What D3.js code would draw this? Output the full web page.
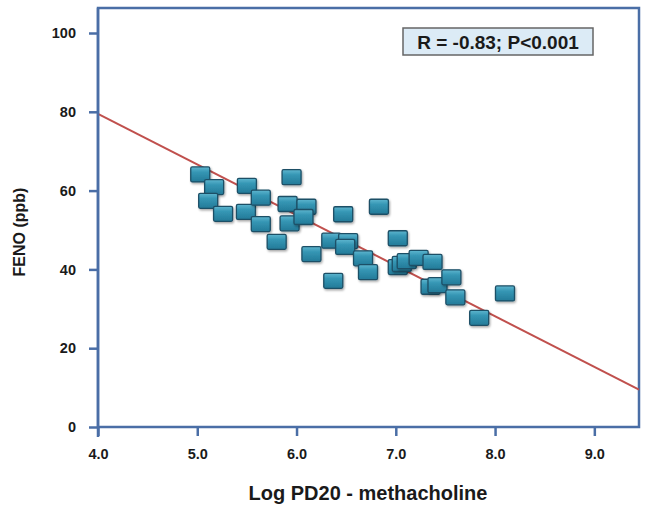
<!DOCTYPE html>
<meta charset="utf-8">
<style>
    body { margin: 0; overflow: hidden; background: #fff; }
    text { font-family: "Liberation Sans", Arial, sans-serif; font-weight: bold; fill: #1a1a1a; }
</style>
<svg id="canvas" width="645" height="506"></svg>
<script src="https://d3js.org/d3.v7.min.js"></script>
<script>

    // values
    var logPD20 = [5.03, 5.17, 5.11, 5.26, 5.50, 5.49, 5.64, 5.64, 5.80, 5.95, 5.91, 5.93,
                   6.10, 6.07, 6.15, 6.37, 6.35, 6.47, 6.52, 6.49, 6.67, 6.72, 6.83, 7.02,
                   7.02, 7.06, 7.11, 7.23, 7.37, 7.35, 7.42, 7.56, 7.60, 7.84, 8.10];
    var feno    = [64.1, 60.9, 57.4, 54.1, 61.2, 54.6, 58.2, 51.5, 47.0, 63.4, 56.6, 51.7,
                   55.9, 53.3, 43.9, 37.1, 47.3, 54.0, 47.2, 45.7, 42.8, 39.3, 55.9, 47.9,
                   40.6, 41.4, 42.1, 42.9, 41.9, 35.6, 36.0, 38.0, 32.9, 27.7, 33.9];
    var xTicks = [4, 5, 6, 7, 8, 9];
    var yTicks = [0, 20, 40, 60, 80, 100];
    var fitLine = [[4.0, 79.5], [9.45, 9.5]];
    var statText = "R = -0.83; P<0.001";

    var svg = d3.select("#canvas");
    var axisColor = "#4a6ea6";

    var x = d3.scaleLinear().domain([4, 9.45]).range([98, 639]);
    var y = d3.scaleLinear().domain([0, 100]).range([427, 33]);

    var defs = svg.append("defs");
    var grad = defs.append("linearGradient").attr("id", "boxfill")
                   .attr("x1", 0).attr("y1", 0).attr("x2", 0).attr("y2", 1);
    grad.append("stop").attr("offset", "0%").attr("stop-color", "#5fb6cf");
    grad.append("stop").attr("offset", "35%").attr("stop-color", "#3596b4");
    grad.append("stop").attr("offset", "100%").attr("stop-color", "#237a98");
    var shadow = defs.append("filter").attr("id", "shadow")
                     .attr("x", "-30%").attr("y", "-30%").attr("width", "160%").attr("height", "160%");
    shadow.append("feDropShadow").attr("dx", 1).attr("dy", 1.5).attr("stdDeviation", 1)
          .attr("flood-color", "#000").attr("flood-opacity", 0.35);

    // plot frame
    svg.append("rect")
       .attr("x", 98).attr("y", 8).attr("width", 541).attr("height", 419)
       .attr("fill", "none").attr("stroke", axisColor).attr("stroke-width", 2.5);

    // regression line
    svg.append("line")
       .attr("x1", x(fitLine[0][0])).attr("y1", y(fitLine[0][1]))
       .attr("x2", x(fitLine[1][0])).attr("y2", y(fitLine[1][1]))
       .attr("stroke", "#c0504d").attr("stroke-width", 2);

    // axes
    var yAxis = svg.append("g").attr("transform", "translate(98,0)")
                   .call(d3.axisLeft(y).tickValues(yTicks).tickSize(9).tickPadding(13).tickFormat(d3.format("d")));
    var xAxis = svg.append("g").attr("transform", "translate(0,427)")
                   .call(d3.axisBottom(x).tickValues(xTicks).tickSize(9).tickPadding(13).tickFormat(d3.format(".1f")));

    [xAxis, yAxis].forEach(function(g) {
        g.select(".domain").remove();
        g.selectAll(".tick line").attr("stroke", axisColor).attr("stroke-width", 2.5);
        g.selectAll(".tick text").attr("font-size", 14.5).attr("fill", "#1a1a1a")
         .attr("font-family", "Liberation Sans, Arial, sans-serif").attr("font-weight", "bold");
    });
    svg.append("line").attr("x1", 98).attr("x2", 98).attr("y1", 8).attr("y2", 437)
       .attr("stroke", axisColor).attr("stroke-width", 2.5);

    // points
    var pts = logPD20.map(function(d, i) { return {x: d, y: feno[i]}; });
    svg.append("g").selectAll("rect")
       .data(pts)
       .enter().append("rect")
       .attr("x", function(d) { return x(d.x) - 9.5; })
       .attr("y", function(d) { return y(d.y) - 7.5; })
       .attr("width", 19).attr("height", 15).attr("rx", 1.5)
       .attr("fill", "url(#boxfill)")
       .attr("stroke", "#1d4f66").attr("stroke-width", 1.3)
       .attr("filter", "url(#shadow)");

    // stat box
    svg.append("rect")
       .attr("x", 403).attr("y", 28).attr("width", 190).attr("height", 27)
       .attr("fill", "#dcebf6").attr("stroke", "#666").attr("stroke-width", 1.5);
    svg.append("text").attr("x", 498).attr("y", 48.5).attr("text-anchor", "middle")
       .attr("font-size", 19).attr("fill", "#333").text(statText);

    // axis titles
    svg.append("text").attr("x", 368).attr("y", 500).attr("text-anchor", "middle")
       .attr("font-size", 20).text("Log PD20 - methacholine");
    svg.append("text").attr("transform", "translate(25,232) rotate(-90)").attr("text-anchor", "middle")
       .attr("font-size", 16).text("FENO (ppb)");

</script>
